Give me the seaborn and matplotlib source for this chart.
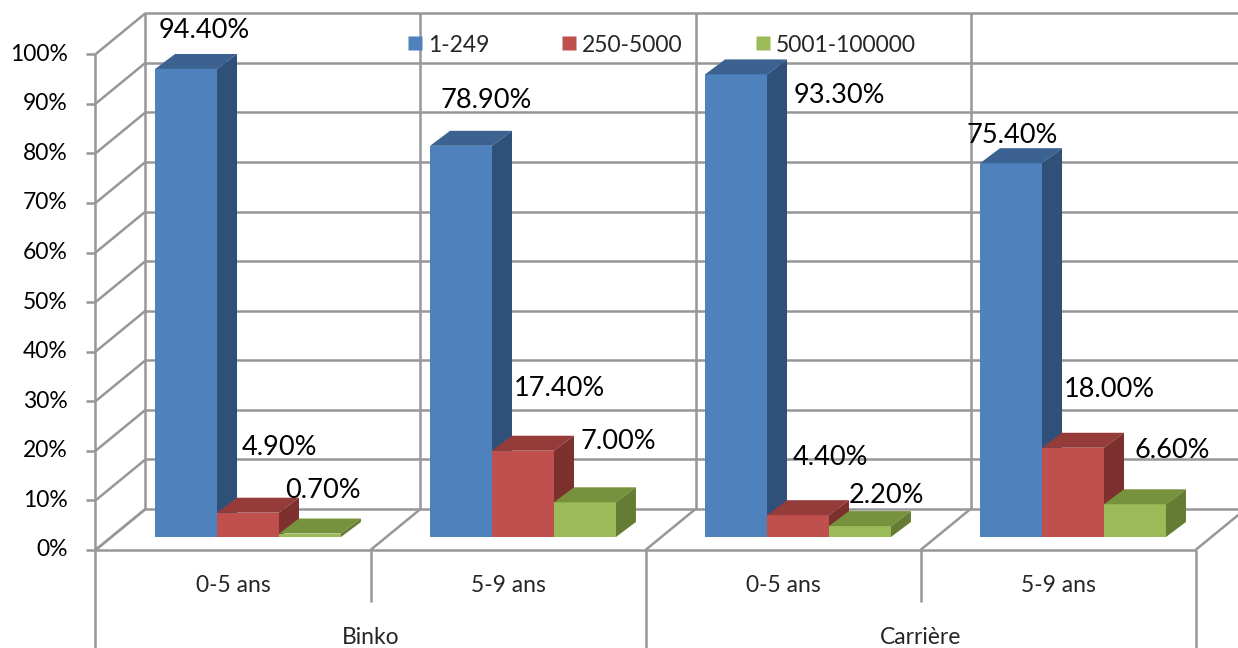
import matplotlib
matplotlib.use("Agg")
import matplotlib.pyplot as plt
from matplotlib.patches import Polygon
from matplotlib.lines import Line2D
import pandas as pd
import seaborn as sns

# ----------------------------------------------------------
# Data
# ----------------------------------------------------------
sites = ["Binko", "Carrière"]
ages = ["0-5 ans", "5-9 ans", "0-5 ans", "5-9 ans"]
series = ["1-249", "250-5000", "5001-100000"]
v_small = [94.4, 78.9, 93.3, 75.4]
v_mid = [4.9, 17.4, 4.4, 18.0]
v_large = [0.7, 7.0, 2.2, 6.6]
y_ticks = list(range(0, 101, 10))

slots = [f"{s}|{a}" for s, a in zip([sites[0]] * 2 + [sites[1]] * 2, ages)]
df = pd.DataFrame({
    "slot": slots * 3,
    "series": [series[0]] * 4 + [series[1]] * 4 + [series[2]] * 4,
    "value": v_small + v_mid + v_large,
})

# ----------------------------------------------------------
# Style
# ----------------------------------------------------------
front_cols = ["#4F81BD", "#C0504D", "#9BBB59"]
top_cols = ["#3C6291", "#953C3A", "#77923D"]
side_cols = ["#2F5079", "#7D302E", "#647C33"]
grid_col = "#979797"
grid_lw = 1.8
small_fs = 16.5
label_fs = 19.5

# label nudges in pixels (x right, y up) from bar front centre / back top
nudge_x = [18, 25, 103, 1, 31, 36, 32, 36, 13, 33, 27, 37]
nudge_y = [23, 30, -36, 13, 50, 47, 43, 43, 28, 46, 16, 39]

sns.set_theme(style="white")
plt.rcParams["font.family"] = ["Lato", "DejaVu Sans"]

W, H = 1238, 648
fig = plt.figure(figsize=(W / 100, H / 100), dpi=100)
ax = fig.add_axes([0, 0, 1, 1])

# pixel <-> data scale (bar front plane)
PU = 1 / 275.0           # category units per pixel
PV = 100 / 495.8         # percent per pixel
X0, Y0 = 248, 537        # pixel of (0, 0)

# depth offsets (data units)
FU, FV = -15 * PU, -13 * PV     # front plane
BU, BV = 35 * PU, 28 * PV       # back wall
DU, DV = 20 * PU, 15 * PV       # bar depth

bounds = [-0.5, 0.5, 1.5, 2.5, 3.5]

def line(xs, ys):
    ax.plot(xs, ys, color=grid_col, lw=grid_lw, solid_capstyle="butt", zorder=1)

# back wall gridlines and verticals
for v in y_ticks:
    line([bounds[0] + BU, bounds[-1] + BU], [v + BV, v + BV])
for b in bounds:
    line([b + BU, b + BU], [BV, 100 + BV])
# left side wall, ticks and tick labels
line([bounds[0] + FU, bounds[0] + FU], [FV, 100 + FV])
for v in y_ticks:
    line([bounds[0] + FU, bounds[0] + BU], [v + FV, v + BV])
    line([bounds[0] + FU - 9 * PU, bounds[0] + FU], [v + FV, v + FV])
    ax.text(bounds[0] + FU - 28 * PU, v + FV, f"{v}%", ha="right", va="center",
            fontsize=small_fs, color="black")
# floor
line([bounds[0] + FU, bounds[-1] + FU], [FV, FV])
for b in bounds:
    line([b + FU, b + BU], [FV, BV])
# category axis dividers
for i, b in enumerate(bounds):
    bottom = -(H - Y0) * PV if i % 2 == 0 else (Y0 - 602) * PV
    line([b + FU, b + FU], [FV, bottom])

# ----------------------------------------------------------
# Bars
# ----------------------------------------------------------
sns.barplot(data=df, x="slot", y="value", hue="series", order=slots,
            hue_order=series, palette=front_cols, saturation=1, width=0.676,
            edgecolor="none", linewidth=0, legend=False, ax=ax)
ax.set_xlim(-X0 * PU, (W - X0) * PU)
ax.set_ylim(-(H - Y0) * PV, Y0 * PV)
ax.axis("off")

n = 0
for k, cont in enumerate(ax.containers):
    for rect in cont:
        x0, w, h = rect.get_x(), rect.get_width(), rect.get_height()
        x1 = x0 + w
        rect.set_zorder(3 + k)
        top = Polygon([(x0, h), (x1, h), (x1 + DU, h + DV), (x0 + DU, h + DV)],
                      closed=True, facecolor=top_cols[k], edgecolor="none",
                      zorder=3.5 + k)
        side = Polygon([(x1, 0), (x1, h), (x1 + DU, h + DV), (x1 + DU, DV)],
                       closed=True, facecolor=side_cols[k], edgecolor="none",
                       zorder=3.5 + k)
        ax.add_patch(top)
        ax.add_patch(side)
        ax.text(x0 + w / 2 + nudge_x[n] * PU, h + DV + nudge_y[n] * PV,
                f"{h:.2f}%", ha="center", va="center", fontsize=label_fs,
                color="black", zorder=10)
        n += 1

# ----------------------------------------------------------
# Category labels
# ----------------------------------------------------------
for i, a in enumerate(ages):
    ax.text(i + FU, (Y0 - 585) * PV, a, ha="center", va="center", fontsize=small_fs)
for j, s in enumerate(sites):
    ax.text(2 * j + 0.5 + FU, (Y0 - 637) * PV, s, ha="center", va="center",
            fontsize=small_fs)

# ----------------------------------------------------------
# Legend
# ----------------------------------------------------------
handles = [Line2D([0], [0], marker="s", linestyle="none", markersize=10,
                  markerfacecolor=c, markeredgecolor="none") for c in front_cols]
fig.legend(handles, series, ncol=3, frameon=False, loc="center left",
           bbox_to_anchor=(406 / W, 1 - 45 / H), fontsize=small_fs,
           handletextpad=0.15, columnspacing=3.1, handlelength=0.8,
           borderaxespad=0, borderpad=0)

fig.savefig("out.png", dpi=100, facecolor="white")
